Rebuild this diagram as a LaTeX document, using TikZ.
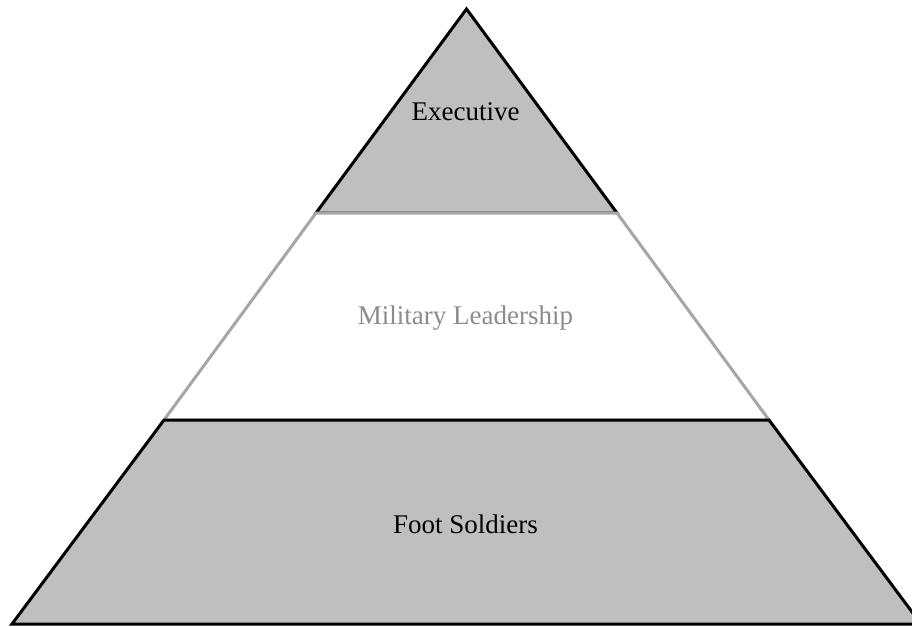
\documentclass[tikz,border=0pt]{standalone}
\usepackage{fontspec}
\setmainfont{Liberation Serif}
\definecolor{tierfill}{RGB}{191,191,191}
\definecolor{tierline}{RGB}{166,166,166}
\definecolor{tiertext}{RGB}{140,140,140}
\begin{document}
\begin{tikzpicture}[x=0.5pt,y=-0.5pt,
  lbl/.style={font=\fontsize{13.5}{16}\selectfont, inner sep=0pt},
  darktier/.style={fill=tierfill, draw=black, line width=1.5pt, line join=miter},
  lighttier/.style={fill=white, draw=tierline, line width=1.5pt, line join=miter}]
\useasboundingbox (0,0) rectangle (912,627);
\clip (0,0) rectangle (912,627);
\coordinate (apex) at (466.5,9);
\coordinate (tl) at (316,213);
\coordinate (tr) at (617,213);
\coordinate (ml) at (164,420);
\coordinate (mr) at (769,420);
\coordinate (bl) at (12,624);
\coordinate (br) at (921,624);
% top tier
\draw[darktier] (apex) -- (tr) -- (tl) -- cycle;
% middle tier
\draw[lighttier] (tl) -- (tr) -- (mr) -- (ml) -- cycle;
% bottom tier
\draw[darktier] (ml) -- (mr) -- (br) -- (bl) -- cycle;
\node[lbl] (exec) at (465.5,112) {Executive};
\node[lbl, text=tiertext] (mil) at (465.5,318) {Military Leadership};
\node[lbl] (foot) at (465.5,524) {Foot Soldiers};
\end{tikzpicture}
\end{document}
